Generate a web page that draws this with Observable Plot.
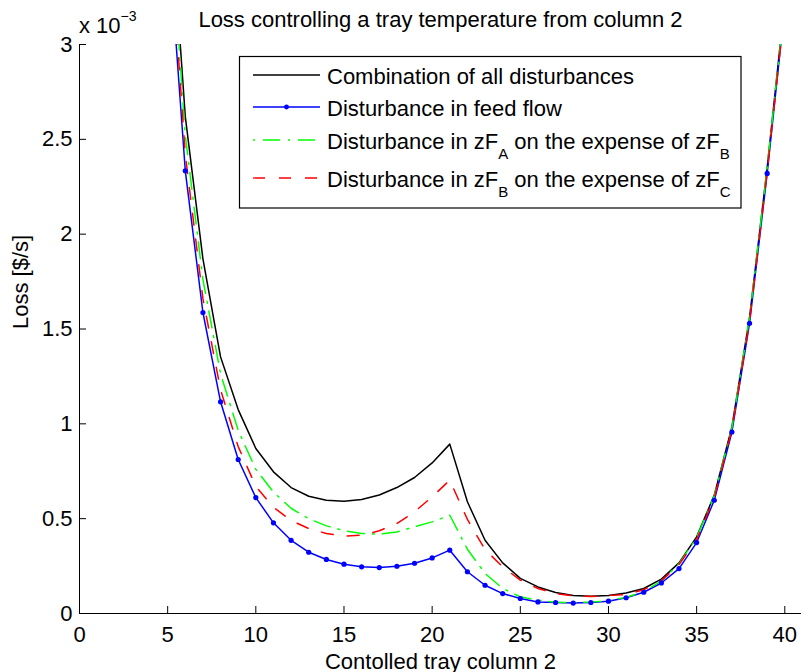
<!DOCTYPE html>
<html><head><meta charset="utf-8">
<script src="https://cdn.jsdelivr.net/npm/d3@7"></script>
<script src="https://cdn.jsdelivr.net/npm/@observablehq/plot@0.6"></script>
<style>html,body{margin:0;padding:0;background:#fff} svg{display:block}</style>
</head><body><div id="chart"></div>
<script>
// Controlled tray in column 2
const trays = [5,6,7,8,9,10,11,12,13,14,15,16,17,18,19,20,21,22,23,24,25,26,27,28,29,30,31,32,33,34,35,36,37,38,39,40];
// Loss values in units of 1e-3 $/s
const lossAll  = [3.95,2.62,1.87,1.353,1.075,0.870,0.747,0.664,0.618,0.597,0.592,0.601,0.625,0.664,0.717,0.794,0.893,0.589,0.386,0.267,0.185,0.140,0.111,0.095,0.091,0.095,0.108,0.132,0.181,0.267,0.404,0.624,0.984,1.56,2.35,3.23];
const lossFeed = [3.62,2.334,1.587,1.116,0.812,0.611,0.478,0.386,0.323,0.285,0.260,0.246,0.242,0.249,0.265,0.293,0.334,0.220,0.149,0.105,0.079,0.061,0.058,0.055,0.058,0.065,0.083,0.112,0.161,0.237,0.374,0.597,0.957,1.53,2.32,3.20];
const lossZFA  = [3.85,2.52,1.76,1.265,0.965,0.760,0.640,0.555,0.500,0.462,0.437,0.422,0.418,0.430,0.457,0.483,0.518,0.339,0.211,0.132,0.088,0.070,0.059,0.058,0.060,0.067,0.085,0.115,0.172,0.262,0.400,0.620,0.980,1.56,2.35,3.22];
const lossZFB  = [3.75,2.42,1.66,1.18,0.880,0.670,0.560,0.490,0.448,0.422,0.408,0.413,0.436,0.474,0.536,0.615,0.703,0.496,0.337,0.246,0.176,0.132,0.105,0.093,0.089,0.095,0.100,0.125,0.172,0.258,0.390,0.610,0.970,1.54,2.33,3.20];

const xTicks = [0,5,10,15,20,25,30,35,40];
const yTicks = [0,0.5,1,1.5,2,2.5,3];
const yTickLabels = ["0","0.5","1","1.5","2","2.5","3"];

const titleText = "Loss controlling a tray temperature from column 2";
const xLabel = "Contolled tray column 2";
const yLabel = "Loss [$/s]";

const seriesNames = [
  [["Combination of all disturbances", false]],
  [["Disturbance in feed flow", false]],
  [["Disturbance in zF", false], ["A", true], [" on the expense of zF", false], ["B", true]],
  [["Disturbance in zF", false], ["B", true], [" on the expense of zF", false], ["C", true]]
];
const seriesColors = ["#000000", "#0000ff", "#00ff00", "#ff0000"];
const seriesDash = [null, null, "2,8,17,8", "12,14"];

const font = "'Liberation Sans', Arial, Helvetica, sans-serif";
const toRows = (vals) => trays.map((t, i) => ({tray: t, loss: vals[i]}));
const allSeries = [lossAll, lossFeed, lossZFA, lossZFB].map(toRows);

const W = 801, H = 672, mL = 79, mR = 0, mT = 44, mB = 59;
const frameW = W - mL - mR, frameH = H - mT - mB;
const tickLen = 7;

const lineMarks = allSeries.map((rows, k) =>
  Plot.line(rows, {x: "tray", y: "loss", stroke: seriesColors[k], strokeWidth: 1.5,
    strokeDasharray: seriesDash[k] || undefined, clip: true}));

const chart = Plot.plot({
  width: W, height: H,
  marginLeft: mL, marginRight: mR, marginTop: mT, marginBottom: mB,
  style: {fontFamily: font, fontSize: "22px", color: "#000", background: "#fff", overflow: "visible"},
  x: {domain: [0, 41], range: [mL, mL + 41 * (705.3 / 40)]},
  y: {domain: [0, 3]},
  marks: [
    Plot.ruleY([0], {stroke: "#000", strokeWidth: 1}),
    Plot.ruleX([0], {stroke: "#000", strokeWidth: 1}),
    Plot.tickX(xTicks, {x: d => d, insetTop: frameH - tickLen, stroke: "#000"}),
    Plot.tickY(yTicks, {y: d => d, insetRight: frameW - tickLen, stroke: "#000"}),
    Plot.axisX({ticks: xTicks, tickSize: 0, tickPadding: 13, fontSize: 22, label: null, tickFormat: d => String(d)}),
    Plot.axisY({ticks: yTicks, tickSize: 0, tickPadding: 7, fontSize: 22, label: null, tickFormat: d => yTickLabels[yTicks.indexOf(d)]}),
    ...lineMarks,
    Plot.dot(allSeries[1], {x: "tray", y: "loss", r: 2.6, fill: "#0000ff", stroke: null, clip: true}),
    Plot.text([titleText], {text: d => d, frameAnchor: "top", dy: -18, lineAnchor: "bottom", fontSize: 22, fill: "#000"}),
    Plot.text([xLabel], {text: d => d, frameAnchor: "bottom", dy: 55, lineAnchor: "bottom", fontSize: 22, fill: "#000"}),
    Plot.text([yLabel], {text: d => d, frameAnchor: "left", dx: -59, rotate: -90, lineAnchor: "middle", fontSize: 22, fill: "#000"})
  ]
});

const svg = d3.select(chart);
// exponent label
const ex = svg.append("text").attr("x", 79).attr("y", 33).attr("font-size", 22).attr("fill", "#000")
  .attr("font-family", font).attr("text-anchor", "start");
ex.append("tspan").text("x 10");
ex.append("tspan").attr("dy", -12).attr("font-size", 14).text("\u22123");

// legend
const lg = svg.append("g").attr("font-family", font).attr("font-size", 22).attr("text-anchor", "start");
lg.append("rect").attr("x", 239.5).attr("y", 56.5).attr("width", 501.5).attr("height", 151.5)
  .attr("fill", "#fff").attr("stroke", "#000").attr("stroke-width", 1.2);
const rowY = [75, 107, 140, 178];
seriesNames.forEach((parts, k) => {
  const y = rowY[k];
  lg.append("line").attr("x1", 253).attr("x2", 320).attr("y1", y).attr("y2", y)
    .attr("stroke", seriesColors[k]).attr("stroke-width", 1.3)
    .attr("stroke-dasharray", seriesDash[k]);
  if (k === 1) lg.append("circle").attr("cx", 286.5).attr("cy", y).attr("r", 2.4).attr("fill", seriesColors[k]);
  const t = lg.append("text").attr("x", 327).attr("y", y + 8.5).attr("fill", "#000").attr("text-anchor", "start");
  let sub = false;
  parts.forEach(([str, isSub]) => {
    const ts = t.append("tspan").text(str);
    if (isSub && !sub) { ts.attr("dy", 10).attr("font-size", 15); sub = true; }
    else if (!isSub && sub) { ts.attr("dy", -10); sub = false; }
    else if (isSub) ts.attr("font-size", 15);
  });
});

document.getElementById("chart").appendChild(chart);
</script>
</body></html>
